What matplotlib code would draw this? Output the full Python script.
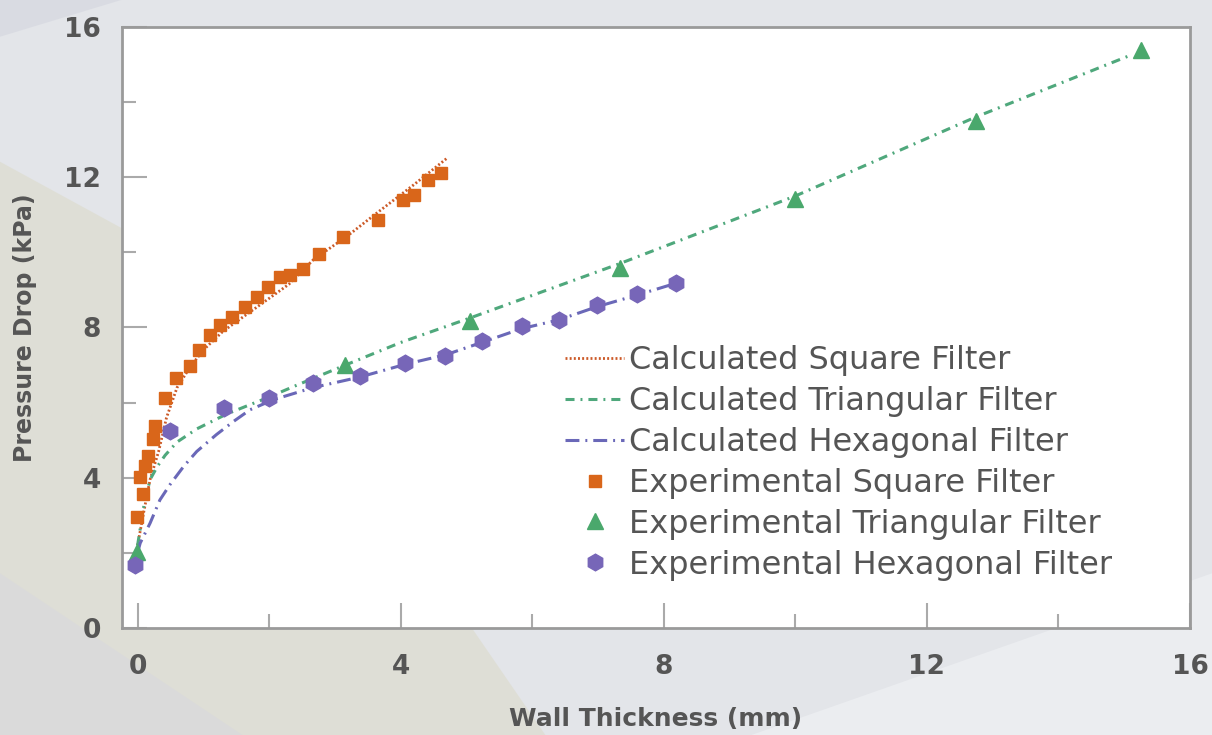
import matplotlib
matplotlib.use('Agg')
import matplotlib.pyplot as plt
from matplotlib.patches import Polygon
from matplotlib.ticker import MultipleLocator

# experimental points
sq_x = [-0.01, 0.08, 0.04, 0.11, 0.155, 0.23, 0.27, 0.42, 0.58, 0.79, 0.94, 1.10, 1.25, 1.43,
        1.63, 1.82, 1.98, 2.17, 2.32, 2.51, 2.76, 3.12, 3.65, 4.04, 4.21, 4.41, 4.61]
sq_y = [2.95, 3.56, 4.03, 4.32, 4.59, 5.03, 5.37, 6.11, 6.65, 6.97, 7.39, 7.79, 8.06, 8.27,
        8.55, 8.81, 9.08, 9.34, 9.41, 9.56, 9.96, 10.41, 10.86, 11.39, 11.52, 11.93, 12.12]

tri_x = [-0.01, 3.16, 5.05, 7.33, 10.0, 12.74, 15.25]
tri_y = [2.03, 7.01, 8.17, 9.59, 11.41, 13.5, 15.4]

hex_x = [-0.04, 0.49, 1.32, 2.0, 2.67, 3.38, 4.07, 4.68, 5.23, 5.84, 6.40, 6.98, 7.59, 8.19]
hex_y = [1.68, 5.24, 5.86, 6.12, 6.52, 6.70, 7.06, 7.25, 7.64, 8.03, 8.19, 8.59, 8.88, 9.19]

# calculated curves
csq_x = [0.0, 0.09, 0.19, 0.32, 0.44, 0.6, 0.8, 1.0, 1.3, 1.86, 2.3, 2.67, 3.2, 3.64, 4.2, 4.7]
csq_y = [2.2, 3.05, 3.95, 4.7, 5.6, 6.4, 6.95, 7.4, 7.9, 8.6, 9.15, 9.8, 10.45, 11.05, 11.8, 12.5]

ctri_x = [0.0, 0.1, 0.19, 0.3, 0.42, 0.6, 0.9, 1.36, 1.96, 2.47, 3.16, 4.0, 5.05, 7.33, 10.0, 12.74, 15.1]
ctri_y = [2.2, 3.3, 3.95, 4.3, 4.6, 4.95, 5.3, 5.7, 6.12, 6.5, 7.0, 7.6, 8.25, 9.7, 11.5, 13.6, 15.25]

chex_x = [0.0, 0.04, 0.19, 0.34, 0.49, 0.7, 0.9, 1.2, 1.46, 1.71, 2.07, 2.67, 3.38, 4.07,
          4.68, 5.23, 5.84, 6.40, 6.98, 7.59, 8.19]
chex_y = [2.0, 2.26, 2.79, 3.41, 3.81, 4.3, 4.7, 5.15, 5.5, 5.81, 6.08, 6.4, 6.68, 7.02,
          7.27, 7.6, 7.97, 8.2, 8.55, 8.86, 9.18]

plt.rcParams['font.family'] = ['DejaVu Sans']
plt.rcParams['lines.scale_dashes'] = False

fig = plt.figure(figsize=(12.12, 7.35), dpi=100, facecolor='#e3e5e9')

# pale background shapes
fig.patches.append(Polygon([(0, 0.78), (0.2, 0.6), (0.45, 0.0), (0, 0)], closed=True,
                           transform=fig.transFigure, facecolor='#dddccf', alpha=0.7, zorder=-2))
fig.patches.append(Polygon([(0, 0.95), (0.1, 1.0), (0, 1.0)], closed=True,
                           transform=fig.transFigure, facecolor='#d7d9e1', alpha=0.8, zorder=-1))
fig.patches.append(Polygon([(0, 0.22), (0.2, 0.0), (0, 0.0)], closed=True,
                           transform=fig.transFigure, facecolor='#d9d9dc', alpha=0.8, zorder=-1))
fig.patches.append(Polygon([(0.62, 0.0), (1.0, 0.22), (1.0, 0.0)], closed=True,
                           transform=fig.transFigure, facecolor='#eceef1', alpha=0.9, zorder=-1))

ax = fig.add_axes([0.1007, 0.1456, 0.8811, 0.8177])
ax.set_facecolor('white')

ax.plot(csq_x, csq_y, color='#cc5a28', lw=2, linestyle=(0, (1.4, 1.6)),
        label='Calculated Square Filter')
ax.plot(ctri_x, ctri_y, color='#4fa87c', lw=2.2, linestyle=(0, (6.5, 4.3, 1.4, 4.3)),
        label='Calculated Triangular Filter')
ax.plot(chex_x, chex_y, color='#6a68b8', lw=2.2, linestyle=(0, (10, 4.3, 1.4, 4.3)),
        label='Calculated Hexagonal Filter')
ax.plot(sq_x, sq_y, 's', color='#d9661a', ms=8.5, mec='#d9661a', linestyle='none',
        label='Experimental Square Filter')
ax.plot(tri_x, tri_y, '^', color='#4aa86c', ms=11.5, mec='#4aa86c', linestyle='none',
        label='Experimental Triangular Filter')
ax.plot(hex_x, hex_y, 'h', color='#7766b8', ms=12, mec='#7766b8', linestyle='none',
        label='Experimental Hexagonal Filter')

ax.set_xlim(-0.236, 16)
ax.set_ylim(0, 16)
ax.xaxis.set_major_locator(MultipleLocator(4))
ax.xaxis.set_minor_locator(MultipleLocator(2))
ax.yaxis.set_major_locator(MultipleLocator(4))
ax.yaxis.set_minor_locator(MultipleLocator(2))

for s in ax.spines.values():
    s.set_color('#9a9a9a')
    s.set_linewidth(2)

ax.tick_params(which='major', direction='in', length=18, width=1.5, color='#aaaaaa',
               labelsize=19, labelcolor='#555555', pad=19)
ax.tick_params(which='minor', direction='in', length=10, width=1.5, color='#aaaaaa')
ax.tick_params(axis='y', pad=15)
for lab in ax.get_xticklabels() + ax.get_yticklabels():
    lab.set_fontweight('bold')

ax.set_xlabel('Wall Thickness (mm)', fontsize=18, fontweight='bold', color='#555555', labelpad=19)
ax.set_ylabel('Pressure Drop (kPa)', fontsize=17, fontweight='bold', color='#555555', labelpad=20)

leg = ax.legend(loc='upper left', bbox_to_anchor=(565 / 1212, 1 - 345 / 735),
                bbox_transform=fig.transFigure, frameon=False,
                prop={'size': 23, 'weight': 'medium'},
                handlelength=1.85, handletextpad=0.15, labelspacing=0.31,
                borderpad=0, borderaxespad=0)
for t in leg.get_texts():
    t.set_color('#555555')

plt.savefig('out.png', dpi=100, facecolor=fig.get_facecolor())
